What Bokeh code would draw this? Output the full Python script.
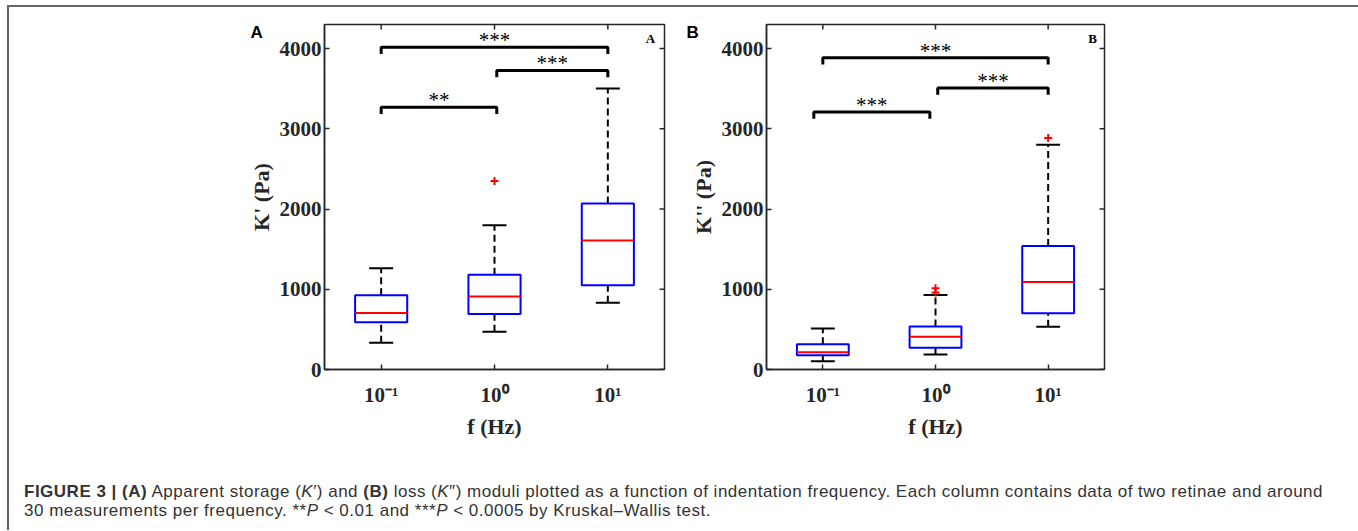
import numpy as np
from bokeh.plotting import figure
from bokeh.layouts import row, column
from bokeh.models import ColumnDataSource, FixedTicker, Label, Div, Range1d, Spacer, Title
from bokeh.embed import file_html
from bokeh.resources import INLINE
from bokeh.core.properties import value

# ---------------- data ----------------
freqs = [0.1, 1.0, 10.0]
freq_tick_labels = ["10\u207b\u00b9", "10\u2070", "10\u00b9"]
y_ticks = [0, 1000, 2000, 3000, 4000]
y_max = 4300

# Panel A : K' (Pa)
A_low = [333, 469, 831]
A_q1 = [589, 691, 1049]
A_med = [704, 910, 1609]
A_q3 = [926, 1181, 2070]
A_high = [1263, 1799, 3502]
A_out_f = [1.0]
A_out_v = [2350]
A_sig_y = [3268, 3728, 4016]
A_sig_lab = ["**", "***", "***"]

# Panel B : K'' (Pa)
B_low = [104, 187, 532]
B_q1 = [178, 270, 701]
B_med = [216, 407, 1092]
B_q3 = [315, 535, 1540]
B_high = [511, 930, 2802]
B_out_f = [1.0, 1.0, 10.0]
B_out_v = [1012, 959, 2885]
B_sig_y = [3209, 3508, 3885]
B_sig_lab = ["***", "***", "***"]

# comparison pairs (group indices) shared by both panels
sig_pairs = [(0, 1), (1, 2), (0, 2)]

AX = "#262626"
SERIF = "Liberation Serif"


def make_panel(low, q1, med, q3, high, out_f, out_v, sig_y, sig_lab, sig_shift,
               ylabel, letter, letter_offset, width, mbl, mbr, mbt, mbb):
    x = np.log10(freqs)
    xr = Range1d(-1.5, 1.5)
    p = figure(width=width, height=435, x_range=xr, y_range=Range1d(0, y_max),
               output_backend="svg", toolbar_location=None,
               min_border_left=mbl, min_border_right=mbr, min_border_top=mbt, min_border_bottom=mbb)
    p.grid.visible = False
    p.outline_line_color = AX
    p.outline_line_width = 1.5
    p.background_fill_color = "white"
    p.border_fill_color = "white"

    hw = 0.23   # half box width (decades)
    cw = 0.106  # half cap width
    src = ColumnDataSource(dict(x=x, low=low, q1=q1, med=med, q3=q3, high=high,
                                l=x - hw, r=x + hw, cl=x - cw, cr=x + cw))
    # whiskers
    p.segment(x0="x", x1="x", y0="q3", y1="high", source=src, line_color="black",
              line_width=2, line_dash="7 4")
    p.segment(x0="x", x1="x", y0="low", y1="q1", source=src, line_color="black",
              line_width=2, line_dash="7 4")
    # caps
    p.segment(x0="cl", x1="cr", y0="high", y1="high", source=src, line_color="black", line_width=2)
    p.segment(x0="cl", x1="cr", y0="low", y1="low", source=src, line_color="black", line_width=2)
    # boxes
    p.quad(left="l", right="r", bottom="q1", top="q3", source=src, fill_color=None,
           line_color="#0000FF", line_width=2)
    # medians
    p.segment(x0="l", x1="r", y0="med", y1="med", source=src, line_color="#FF0000", line_width=2)
    # outliers
    p.scatter(x=np.log10(out_f), y=out_v, marker="cross", size=8, line_color="#FF0000", line_width=2)

    # significance brackets
    leg = 85
    xs, ys, mx = [], [], []
    for (i, j), yy, (s0, s1) in zip(sig_pairs, sig_y, sig_shift):
        x0, x1 = x[i] + s0, x[j] + s1
        xs.append([x0, x0, x1, x1])
        ys.append([yy - leg, yy, yy, yy - leg])
        mx.append((x0 + x1) / 2)
    p.multi_line(xs=xs, ys=ys, line_color="black", line_width=3)
    p.text(x=mx, y=sig_y, text=sig_lab, text_align="center", text_baseline="alphabetic",
           text_font=value(SERIF), text_font_size="21px", text_color="black", y_offset=-7)

    # mirrored inward ticks on top and right frame edges
    p.scatter(x=x, y=[y_max] * len(x), marker="dash", angle=np.pi / 2, size=10,
              line_color=AX, line_width=1.5)
    p.scatter(x=[xr.end] * len(y_ticks), y=y_ticks, marker="dash", size=10,
              line_color=AX, line_width=1.5)

    # axes
    overrides = {int(round(v)): lab for v, lab in zip(x, freq_tick_labels)}
    p.xaxis.ticker = FixedTicker(ticks=[int(round(v)) for v in x])
    p.xaxis.major_label_overrides = overrides
    p.yaxis.ticker = FixedTicker(ticks=y_ticks)
    for ax in (p.xaxis[0], p.yaxis[0]):
        ax.axis_line_color = AX
        ax.axis_line_width = 1.5
        ax.major_tick_line_color = AX
        ax.major_tick_line_width = 1.5
        ax.major_tick_in = 5
        ax.major_tick_out = 0
        ax.minor_tick_line_color = None
        ax.major_label_text_font = SERIF
        ax.major_label_text_font_style = "bold"
        ax.major_label_text_font_size = "21px"
        ax.major_label_text_color = AX
        ax.axis_label_text_font = SERIF
        ax.axis_label_text_font_style = "bold"
        ax.axis_label_text_font_size = "22px"
        ax.axis_label_text_color = AX
    p.xaxis.axis_label = "f (Hz)"
    p.xaxis.major_label_standoff = 13
    p.xaxis.axis_label_standoff = 4
    p.yaxis.axis_label = ylabel
    p.yaxis.major_label_standoff = 3
    p.yaxis.axis_label_standoff = 3

    # panel letter as a title pushed left of (and down beside) the frame
    p.add_layout(Title(text=letter, align="left", offset=letter_offset, standoff=-35,
                       vertical_align="bottom", text_font="Liberation Sans",
                       text_font_style="bold", text_font_size="17px", text_color="black"),
                 "above")

    # small corner letter inside the axes
    p.add_layout(Label(x=326, y=331, x_units="screen", y_units="screen", text=letter,
                       text_font=SERIF, text_font_style="bold", text_font_size="13px",
                       text_align="center", text_baseline="middle", text_color="black"))
    return p


pA = make_panel(A_low, A_q1, A_med, A_q3, A_high, A_out_f, A_out_v, A_sig_y, A_sig_lab,
                [(0, 0.02), (0.02, 0), (0, 0)], "K' (Pa)", "A", -74,
                width=660, mbl=315, mbr=5, mbt=15, mbb=72)
pB = make_panel(B_low, B_q1, B_med, B_q3, B_high, B_out_f, B_out_v, B_sig_y, B_sig_lab,
                [(-0.08, -0.05), (0.02, 0), (0, 0)], "K'' (Pa)", "B", -80,
                width=684, mbl=97, mbr=249, mbt=17, mbb=73)

caption_html = (
    '<div style="padding:35px 0 0 10px; font-family:\'Liberation Sans\', Arial, sans-serif; '
    'font-size:17px; letter-spacing:0.5px; line-height:19px; color:#333333; white-space:nowrap;">'
    '<b>FIGURE 3 | (A)</b> Apparent storage (<i>K</i>\u2032) and <b>(B)</b> loss (<i>K</i>\u2033) '
    'moduli plotted as a function of indentation frequency. Each column contains data of two retinae and around<br>'
    '30 measurements per frequency. **<i>P</i> &lt; 0.01 and ***<i>P</i> &lt; 0.0005 by Kruskal\u2013Wallis test.'
    '</div>'
)
cap = Div(text=caption_html, width=1344, height=78)

framed = column(row(pA, pB), cap,
                styles={"border-top": "2px solid #666666", "border-left": "2px solid #666666",
                        "border-right": "2px solid #666666"})
layout = row(Spacer(width=7), column(Spacer(height=5), framed))

open("out.html", "w").write(file_html(layout, INLINE))
